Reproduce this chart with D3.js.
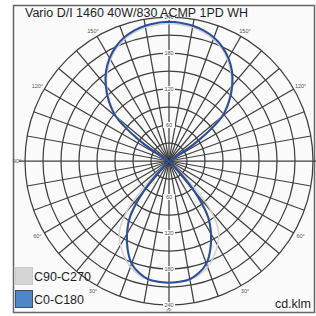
<!DOCTYPE html>
<html>
<head>
<meta charset="utf-8">
<script src="https://cdn.jsdelivr.net/npm/d3@7/dist/d3.min.js"></script>
<style>
  html, body { margin: 0; padding: 0; background: #fff; }
  svg { display: block; font-family: "Liberation Sans", Arial, sans-serif; }
</style>
</head>
<body>
<svg id="chart" width="316" height="316"></svg>
<script>
// ---- data (cd/klm) ----
const title = 'Vario D/I 1460 40W/830 ACMP 1PD WH';
const unit = 'cd.klm';
const gammas = [0, 5, 10, 15, 20, 25, 30, 35, 40, 45, 50, 55, 60, 65, 70, 75, 80, 85, 90,
  95, 100, 105, 110, 115, 120, 125, 130, 135, 140, 145, 150, 155, 160, 165, 170, 175, 180];
const c0c180 = [203, 202, 200, 193, 182, 163, 140, 113, 65, 10, 0, 0, 0, 0, 0, 0, 0, 0, 0,
  0, 0, 0, 0, 0, 8, 62, 116, 142, 164, 183, 198, 210, 219, 225, 229, 231, 232];
const c90c270 = [204, 203, 201, 196, 188, 176, 162, 144, 110, 45, 5, 0, 0, 0, 0, 0, 0, 0, 0,
  0, 0, 0, 0, 0, 6, 58, 112, 139, 161, 180, 195, 207, 216, 222, 226, 228, 229];
const ringValues = [30, 60, 90, 120, 150, 180, 210, 240];
const ringLabels = [60, 120, 180, 240];
const angleLabels = [0, 30, 60, 90, 120, 150];
const seriesNames = ['C90-C270', 'C0-C180'];
const seriesColors = ['#d0d0d0', '#2d4f98'];
const swatchColors = ['#d6d6d6', '#4f86c8'];

// ---- layout ----
const cx = 169, cy = 161;
const r = d3.scaleLinear().domain([0, 240]).range([0, 144]);
const rad = (deg) => deg * Math.PI / 180;

const svg = d3.select('#chart');

// frame
svg.append('rect')
  .attr('x', 13.5).attr('y', 5.5)
  .attr('width', 301).attr('height', 307)
  .attr('fill', '#fbfbfb')
  .attr('stroke', '#666')
  .attr('stroke-width', 1.5);

const g = svg.append('g').attr('transform', `translate(${cx},${cy})`);
const grid = g.append('g')
  .attr('stroke', '#3f3f3f')
  .attr('stroke-width', 1.25)
  .attr('fill', 'none');

// rings
grid.selectAll('circle.ring')
  .data(ringValues)
  .enter()
  .append('circle')
  .classed('ring', true)
  .attr('r', (d) => r(d));

// spokes every 10 degrees, main axes a bit longer
const spokes = d3.range(0, 360, 10);
grid.selectAll('line.spoke')
  .data(spokes)
  .enter()
  .append('line')
  .classed('spoke', true)
  .attr('x1', 0).attr('y1', 0)
  .attr('x2', (d) => Math.sin(rad(d)) * (d % 90 === 0 ? r(240) + 6 : r(240)))
  .attr('y2', (d) => -Math.cos(rad(d)) * (d % 90 === 0 ? r(240) + 4 : r(240)));

// dark hub where the spokes meet
g.append('circle').attr('r', 2.5).attr('fill', '#111');

// curves: C0 on the right half, C180 mirrored on the left (0 deg = down)
function lobePoints(values) {
  const right = gammas.map((gm, i) => [Math.PI - rad(gm), r(values[i])]);
  const left = gammas.slice().reverse().map((gm, i) =>
    [Math.PI + rad(gm), r(values[values.length - 1 - i])]);
  return right.concat(left);
}
const radial = d3.lineRadial()
  .angle((d) => d[0])
  .radius((d) => d[1])
  .curve(d3.curveCatmullRomClosed.alpha(0.5));

const series = [c90c270, c0c180];
g.selectAll('path.curve')
  .data(series)
  .enter()
  .append('path')
  .classed('curve', true)
  .attr('d', (d) => radial(lobePoints(d)))
  .attr('fill', 'none')
  .attr('stroke', (d, i) => seriesColors[i])
  .attr('stroke-width', (d, i) => (i === 0 ? 1.4 : 2.1));

// ring value labels on the vertical axis, top and bottom
const ringLabelData = ringLabels.flatMap((v) => [{ v, s: -1 }, { v, s: 1 }]);
const rl = g.selectAll('g.rlabel')
  .data(ringLabelData)
  .enter()
  .append('g')
  .classed('rlabel', true)
  .attr('transform', (d) => `translate(0,${d.s * r(d.v)})`);
rl.append('rect')
  .attr('x', -6).attr('y', -3)
  .attr('width', 12).attr('height', 6)
  .attr('fill', '#fbfbfb');
rl.append('text')
  .attr('text-anchor', 'middle')
  .attr('dy', '0.35em')
  .attr('font-size', 5.5)
  .attr('fill', '#555')
  .text((d) => d.v);

// angle labels on both sides
const angleData = angleLabels.flatMap((a) => (a === 0 ? [{ a, s: 1 }] : [{ a, s: 1 }, { a, s: -1 }]));
g.selectAll('text.alabel')
  .data(angleData)
  .enter()
  .append('text')
  .classed('alabel', true)
  .attr('x', (d) => d.s * Math.sin(rad(d.a)) * 152)
  .attr('y', (d) => Math.cos(rad(d.a)) * 150)
  .attr('text-anchor', 'middle')
  .attr('dy', '0.35em')
  .attr('font-size', 5.5)
  .attr('fill', '#555')
  .text((d) => d.a + '°');

// title
svg.append('text')
  .attr('x', 25).attr('y', 17)
  .attr('font-size', 12.5)
  .attr('fill', '#1e1e1e')
  .attr('textLength', 223)
  .attr('lengthAdjust', 'spacingAndGlyphs')
  .text(title);

// legend
const legend = svg.selectAll('g.legend')
  .data(seriesNames)
  .enter()
  .append('g')
  .classed('legend', true)
  .attr('transform', (d, i) => `translate(15,${267 + i * 23})`);
legend.append('rect')
  .attr('x', 0.5).attr('y', 0.5)
  .attr('width', 17).attr('height', 17)
  .attr('fill', (d, i) => swatchColors[i])
  .attr('stroke', (d, i) => (i === 0 ? '#c8c8c8' : '#3a4f70'))
  .attr('stroke-width', 1);
legend.append('text')
  .attr('x', 19).attr('y', 14)
  .attr('font-size', 12.5)
  .attr('fill', '#1e1e1e')
  .text((d) => d);

svg.append('text')
  .attr('x', 311).attr('y', 308)
  .attr('text-anchor', 'end')
  .attr('font-size', 12.5)
  .attr('fill', '#1e1e1e')
  .text(unit);
</script>
</body>
</html>
